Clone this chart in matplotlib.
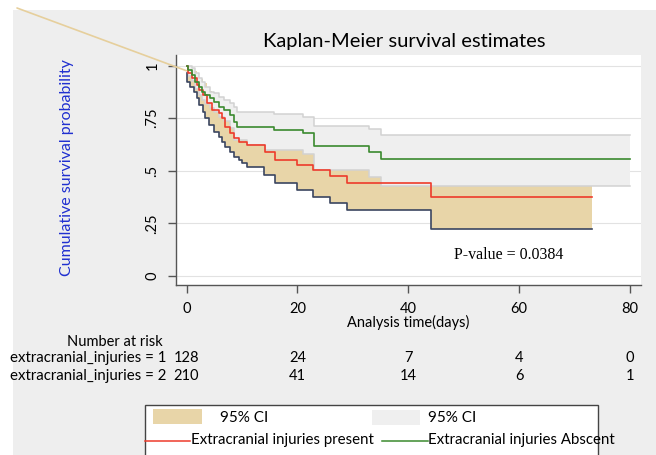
import numpy as np
import matplotlib
matplotlib.use("Agg")
import matplotlib.pyplot as plt
from matplotlib.patches import Rectangle, ConnectionPatch
from matplotlib.lines import Line2D
from matplotlib.transforms import blended_transform_factory

plt.rcParams['font.family'] = ['Lato', 'DejaVu Sans']

# extracranial injuries present (group 1) - estimate and 95% CI
red_t = [0, 0.3, 1.0, 1.9, 2.2, 3.0, 3.7, 4.6, 5.8, 6.4, 7.0, 7.9, 8.5, 9.4,
         10.9, 14.2, 16.0, 19.9, 22.9, 25.9, 29.0, 44.1]
red_s = [1.0, 0.963, 0.939, 0.907, 0.884, 0.860, 0.820, 0.789, 0.773, 0.749,
         0.709, 0.678, 0.654, 0.638, 0.622, 0.59, 0.551, 0.527, 0.503, 0.475,
         0.44, 0.377]
red_hi = [1.0, 0.99, 0.975, 0.955, 0.935, 0.915, 0.88, 0.855, 0.84, 0.82,
          0.785, 0.755, 0.735, 0.72, 0.705, 0.675, 0.64, 0.615, 0.595, 0.57,
          0.54, 0.49]
red_lo_t = [0, 0.1, 0.7, 1.3, 1.8, 2.2, 3.0, 3.4, 4.0, 4.9, 5.8, 6.4, 7.0,
            7.9, 8.5, 9.4, 10.0, 10.9, 13.9, 16.0, 19.9, 22.9, 25.9, 29.0, 44.1]
red_lo = [0.963, 0.923, 0.899, 0.876, 0.844, 0.812, 0.781, 0.749, 0.717,
          0.686, 0.662, 0.638, 0.614, 0.59, 0.567, 0.551, 0.535, 0.519, 0.48,
          0.44, 0.409, 0.377, 0.345, 0.314, 0.222]
red_end = 73.2

# extracranial injuries absent (group 2)
green_t = [0, 0.24, 1.0, 1.6, 2.2, 2.8, 3.4, 4.3, 4.9, 5.8, 6.7, 7.9, 8.5,
           9.1, 15.8, 21.0, 23.0, 33.0, 35.0]
green_s = [1.0, 0.979, 0.955, 0.923, 0.899, 0.876, 0.860, 0.844, 0.828,
           0.804, 0.789, 0.765, 0.733, 0.709, 0.694, 0.678, 0.618, 0.59, 0.557]
green_hi = [1.0, 1.0, 0.986, 0.963, 0.939, 0.923, 0.899, 0.876, 0.868, 0.852,
            0.836, 0.820, 0.804, 0.781, 0.768, 0.754, 0.713, 0.697, 0.671]
green_lo_t = [0, 0.24, 1.0, 1.6, 2.2, 2.8, 3.4, 4.3, 4.9, 5.8, 6.7, 7.9, 8.5,
              10.9, 14.2, 21.0, 23.0, 33.0, 35.0]
green_lo = [1.0, 0.95, 0.925, 0.89, 0.86, 0.835, 0.815, 0.8, 0.78, 0.755,
            0.735, 0.705, 0.646, 0.622, 0.60, 0.579, 0.505, 0.472, 0.428]
green_end = 80

risk_times = [0, 20, 40, 60, 80]
risk_1 = [128, 24, 7, 4, 0]
risk_2 = [210, 41, 14, 6, 1]

yticks = [0, 0.25, 0.5, 0.75, 1]
ytick_labels = ['0', '.25', '.5', '.75', '1']


def step_path(t, s, end):
    xs, ys = [], []
    for i in range(len(t)):
        nxt = t[i + 1] if i + 1 < len(t) else end
        xs += [t[i], nxt]
        ys += [s[i], s[i]]
    return xs, ys


W, H = 656, 455
fig = plt.figure(figsize=(W / 100, H / 100), dpi=100)
fig.patch.set_facecolor('white')
fig.add_artist(Rectangle((13 / W, 0), 1, 1 - 10 / H, transform=fig.transFigure,
                         facecolor='#eeeeee', edgecolor='none', zorder=0))

ax = fig.add_axes([176 / W, 1 - 285 / H, (641 - 176) / W, (285 - 55) / H])
ax.set_facecolor('white')
ax.set_xlim(-1.9, 82)
ax.set_ylim(-0.043, 1.05)

for y in yticks:
    ax.axhline(y, color='#e2e2e2', lw=0.8, zorder=0.5)

# tan CI band (group 1)
ux, uy = step_path(red_t, red_hi, red_end)
lx, ly = step_path(red_lo_t, red_lo, red_end)
ax.fill(ux + lx[::-1], uy + ly[::-1], color='#e8d5a8', lw=0, zorder=1)

# gray CI band (group 2)
ux, uy = step_path(green_t, green_hi, green_end)
lx, ly = step_path(green_lo_t, green_lo, green_end)
ax.fill(ux + lx[::-1], uy + ly[::-1], facecolor='#efefef', edgecolor='none', zorder=2)
ax.plot(ux, uy, color='#d2d2d2', lw=1.1, zorder=2.5)
ax.plot(lx, ly, color='#d2d2d2', lw=1.1, zorder=2.5)

x, y = step_path(red_lo_t, red_lo, red_end)
ax.plot(x, y, color='#3b4660', lw=1.2, zorder=3)
x, y = step_path(red_t, red_s, red_end)
ax.plot(x, y, color='#ee3b2b', lw=1.2, zorder=4)
x, y = step_path(green_t, green_s, green_end)
ax.plot(x, y, color='#3a8a2e', lw=1.2, zorder=4)

ax.text(48.2, 0.1, 'P-value = 0.0384', family='Liberation Serif', fontsize=11.5,
        va='center', ha='left', zorder=5)

for s in ['top', 'right']:
    ax.spines[s].set_visible(False)
for s in ['left', 'bottom']:
    ax.spines[s].set_color('#555555')
    ax.spines[s].set_linewidth(1.0)

ax.set_yticks(yticks)
ax.set_yticklabels(ytick_labels, rotation=90, va='center', fontsize=10.5)
ax.set_xticks(risk_times)
ax.set_xticklabels([str(t) for t in risk_times], fontsize=10.5)
ax.tick_params(axis='y', length=6, width=1, color='#555555', pad=6)
ax.tick_params(axis='x', length=6, width=1, color='#555555', pad=6)

fig.text(404 / W, 1 - 42 / H, 'Kaplan-Meier survival estimates',
         ha='center', va='center', fontsize=14.5)
fig.text(67 / W, 1 - 168 / H, 'Cumulative survival probability', rotation=90,
         ha='center', va='center', fontsize=11.5, color='#1f2fd0')

tr = blended_transform_factory(ax.transData, fig.transFigure)
ax.text(40, 1 - 322 / H, 'Analysis time(days)', transform=tr, ha='center',
        va='center', fontsize=10.5)

fig.text(115 / W, 1 - 342 / H, 'Number at risk', ha='center', va='center', fontsize=10.5)
fig.text(166 / W, 1 - 358 / H, 'extracranial_injuries = 1', ha='right', va='center', fontsize=10.8)
fig.text(166 / W, 1 - 376 / H, 'extracranial_injuries = 2', ha='right', va='center', fontsize=10.8)
for t, a, b in zip(risk_times, risk_1, risk_2):
    ax.text(t, 1 - 358 / H, str(a), transform=tr, ha='center', va='center', fontsize=10.5)
    ax.text(t, 1 - 376 / H, str(b), transform=tr, ha='center', va='center', fontsize=10.5)

# legend box (drawn by hand, as in the original layout)
fig.add_artist(Rectangle((145 / W, -0.05), (598 - 145) / W, 0.05 + 1 - 405 / H,
                         transform=fig.transFigure, facecolor='white',
                         edgecolor='#444444', lw=1, zorder=5))
fig.add_artist(Rectangle((153 / W, 1 - 424 / H), 49 / W, 15 / H, transform=fig.transFigure,
                         facecolor='#e8d5a8', edgecolor='none', zorder=6))
fig.add_artist(Rectangle((372 / W, 1 - 425 / H), 48 / W, 15 / H, transform=fig.transFigure,
                         facecolor='#efefef', edgecolor='none', zorder=6))
fig.text(220 / W, 1 - 418 / H, '95% CI', va='center', fontsize=11, zorder=7)
fig.text(428 / W, 1 - 418 / H, '95% CI', va='center', fontsize=11, zorder=7)
fig.add_artist(Line2D([145 / W, 190 / W], [1 - 441 / H] * 2, transform=fig.transFigure,
                      color='#ee3b2b', lw=1.1, zorder=7))
fig.add_artist(Line2D([382 / W, 428 / W], [1 - 441 / H] * 2, transform=fig.transFigure,
                      color='#3a8a2e', lw=1.1, zorder=7))
fig.text(191 / W, 1 - 440 / H, 'Extracranial injuries present', va='center', fontsize=10.8, zorder=7)
fig.text(428 / W, 1 - 440 / H, 'Extracranial injuries Abscent', va='center', fontsize=10.8, zorder=7)

# stray fill edge running off to the corner in the original export
fig.add_artist(ConnectionPatch((17 / W, 1 - 8 / H), (0, 0.975), coordsA=fig.transFigure,
                               coordsB=ax.transData, color='#e6cf9c', lw=1.2, zorder=3))

fig.savefig('out.png', dpi=100)
